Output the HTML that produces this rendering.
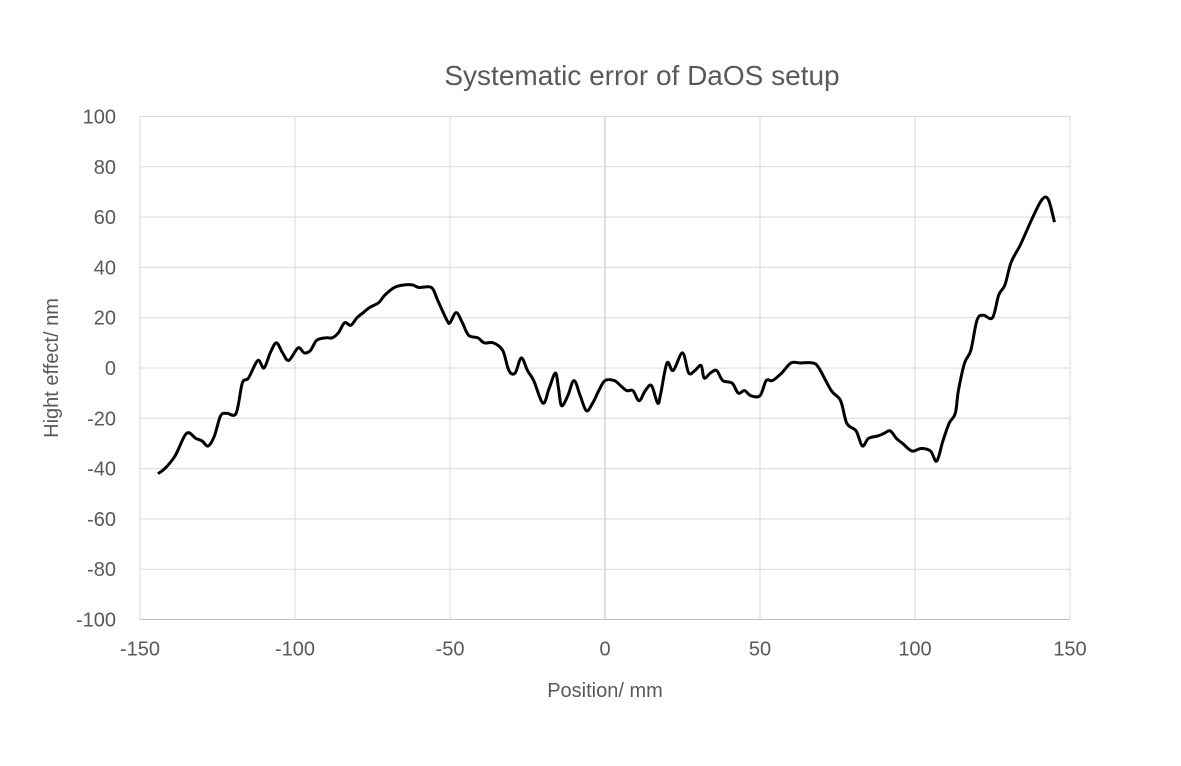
<!DOCTYPE html>
<html><head><meta charset="utf-8"><style>
body{margin:0;background:#fff;}
svg text{font-family:"Liberation Sans",sans-serif;fill:#595959;}
</style></head><body>
<svg id="chart" width="1181" height="761" xmlns="http://www.w3.org/2000/svg">
<text x="642" y="85" text-anchor="middle" font-size="28">Systematic error of DaOS setup</text>
<g id="grid"></g>
<g id="ticks"></g>
<path id="line" fill="none" stroke="#000" stroke-width="3" stroke-linejoin="round"/>
<text x="605" y="697" text-anchor="middle" font-size="20">Position/ mm</text>
<text transform="translate(58,368) rotate(-90)" text-anchor="middle" font-size="20">Hight effect/ nm</text>
</svg>
<script>
const xTicks=[-150,-100,-50,0,50,100,150];
const yTicks=[100,80,60,40,20,0,-20,-40,-60,-80,-100];
const xs=[-144.2,-142,-138.7,-135,-132,-130,-128,-126,-124,-122,-119,-117,-115,-112,-110,-108,-106,-104,-102,-99,-97,-95,-93,-90,-88,-86,-84,-82,-80,-78,-76,-73,-71,-68,-65,-62,-60,-56,-54,-51,-50,-48,-46,-44,-41,-39,-36,-33,-31,-29,-27,-25,-23,-20,-18,-16,-15,-14,-12,-10,-8,-6,-4,-2,0,3,5,7,9,11,13,15,17,18,20,22,25,27,29,31,32,34,36,38,41,43,45,47,50,52,54,57,60,63,67,69,73,76,78,81,83,85,88,90,92,94,96,99,102,105,107,109,111,113,114,116,118,120,122,125,127,129,131,134,138,141,143,145];
const ys=[-42,-40,-35,-26,-28,-29,-31,-27,-19,-18,-18,-6,-4,3,0,6,10,6,3,8,6,7,11,12,12,14,18,17,20,22,24,26,29,32,33,33,32,32,27,19,18,22,18,13,12,10,10,7,-1,-2,4,-1,-5,-14,-8,-2,-8,-15,-11,-5,-11,-17,-14,-9,-5,-5,-7,-9,-9,-13,-9,-7,-14,-10,2,-1,6,-2,-1,1,-4,-2,-1,-5,-6,-10,-9,-11,-11,-5,-5,-2,2,2,2,0,-9,-13,-22,-25,-31,-28,-27,-26,-25,-28,-30,-33,-32,-33,-37,-29,-22,-18,-9,2,7,19,21,20,29,33,42,49,60,67,67,58];
const X=v=>605+v*3.1, Y=v=>368-v*2.515;
const NS="http://www.w3.org/2000/svg";
const grid=document.getElementById('grid'), ticks=document.getElementById('ticks');
function mk(tag,attrs,parent){const e=document.createElementNS(NS,tag);for(const k in attrs)e.setAttribute(k,attrs[k]);parent.appendChild(e);return e;}
xTicks.forEach(t=>{
  const l=mk('line',{x1:X(t),x2:X(t),y1:Y(100),y2:Y(-100),stroke:t===0?'#bfbfbf':'#d9d9d9','stroke-width':1},grid);
  
  
  const tx=mk('text',{x:X(t),y:Y(-100)+36,'text-anchor':'middle','font-size':20},ticks);
  tx.textContent=t;
  
  
});
yTicks.forEach(t=>{
  const l=mk('line',{x1:X(-150),x2:X(150),y1:Y(t),y2:Y(t),stroke:t===-100?'#bfbfbf':'#d9d9d9','stroke-width':1},grid);
  
  
  const tx=mk('text',{x:X(-150)-24,y:Y(t)+7,'text-anchor':'end','font-size':20},ticks);
  tx.textContent=t;
  
  
});
const P=xs.map((x,i)=>[X(x),Y(ys[i])]);
let d='M'+P[0][0]+','+P[0][1];
for(let i=0;i<P.length-1;i++){
  const p0=P[Math.max(0,i-1)],p1=P[i],p2=P[i+1],p3=P[Math.min(P.length-1,i+2)];
  const c1=[p1[0]+(p2[0]-p0[0])/6,p1[1]+(p2[1]-p0[1])/6];
  const c2=[p2[0]-(p3[0]-p1[0])/6,p2[1]-(p3[1]-p1[1])/6];
  d+=` C${c1[0]},${c1[1]} ${c2[0]},${c2[1]} ${p2[0]},${p2[1]}`;
}
document.getElementById('line').setAttribute('d',d);
</script>
</body></html>
